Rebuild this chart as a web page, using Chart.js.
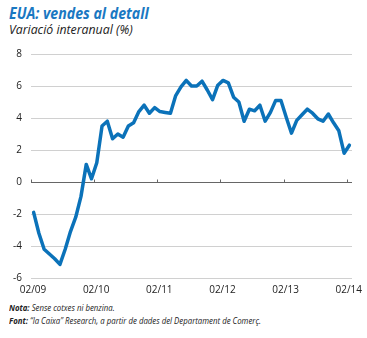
<!DOCTYPE html>
<html lang="ca">
<head>
<meta charset="UTF-8">
<title>EUA: vendes al detall</title>
<style>
    body { margin: 0; width: 367px; height: 338px; background: #fff; position: relative; overflow: hidden;
           font-family: "Open Sans", sans-serif; }
    h1, h2, .note { transform-origin: left center; white-space: nowrap; }
    h1 { position: absolute; left: 9px; top: 2px; margin: 0; font-size: 16px; font-weight: bold; font-style: italic;
         color: #1a78c2; transform: scaleX(0.885); }
    h2 { position: absolute; left: 9px; top: 20px; margin: 0; font-size: 13.5px; font-weight: normal; font-style: italic;
         color: #222; transform: scaleX(0.91); }
    #wrap { position: absolute; left: 0; top: 39px; width: 367px; height: 262px; }
    .note { position: absolute; left: 9px; margin: 0; font-size: 9px; font-style: italic; color: #222;
            transform: scaleX(0.87); }
    .note b { font-weight: bold; }
</style>
</head>
<body>
<h1>EUA: vendes al detall</h1>
<h2>Variació interanual (%)</h2>
<div id="wrap"><canvas id="chart"></canvas></div>
<p class="note" style="top:301px"><b>Nota:</b> Sense cotxes ni benzina.</p>
<p class="note" style="top:314px"><b>Font:</b> “la Caixa” Research, a partir de dades del Departament de Comerç.</p>

<script src="https://cdn.jsdelivr.net/npm/chart.js"></script>
<script>
    // vendes al detall, variació interanual (%), mensual de 02/2009 a 02/2014
    const vendes = [
        -1.9, -3.2, -4.2, -4.5, -4.8, -5.15, -4.2, -3.1, -2.2, -0.9, 1.1, 0.2,
        1.2, 3.5, 3.8, 2.7, 3.0, 2.8, 3.5, 3.7, 4.4, 4.8, 4.3, 4.65,
        4.4, 4.35, 4.3, 5.4, 5.95, 6.35, 6.0, 6.0, 6.3, 5.75, 5.15, 6.05,
        6.35, 6.2, 5.3, 5.0, 3.8, 4.55, 4.45, 4.8, 3.8, 4.35, 5.1, 5.1,
        4.05, 3.05, 3.85, 4.2, 4.55, 4.3, 3.95, 3.8, 4.25, 3.7, 3.2, 1.8,
        2.3
    ];
    const etiquetesX = ['02/09', '02/10', '02/11', '02/12', '02/13', '02/14'];
    const ticksY = [-6, -4, -2, 0, 2, 4, 6, 8];

    const fontTicks = { family: '"Open Sans", sans-serif', size: 10 };

    // una marca al centre de cada mes
    const punts = vendes.map((v, i) => ({ x: i + 0.5, y: v }));

    // petites marques sobre la línia del zero
    const marquesZero = {
        id: 'marquesZero',
        beforeDatasetsDraw(chart) {
            const ctx = chart.ctx;
            const x = chart.scales.x, y = chart.scales.y;
            const y0 = Math.round(y.getPixelForValue(0)) + 0.5;
            ctx.save();
            ctx.strokeStyle = '#666';
            ctx.lineWidth = 1;
            ctx.beginPath();
            etiquetesX.forEach((_, k) => {
                const px = Math.round(x.getPixelForValue(k * 12)) + 0.5;
                ctx.moveTo(px, y0);
                ctx.lineTo(px, y0 - 3);
            });
            ctx.stroke();
            ctx.restore();
        }
    };

    new Chart(document.getElementById('chart'), {
        type: 'line',
        data: {
            datasets: [{
                data: punts,
                borderColor: '#0b72b9',
                borderWidth: 3.5,
                pointRadius: 0,
                tension: 0,
                borderJoinStyle: 'round',
                borderCapStyle: 'round'
            }]
        },
        options: {
            responsive: true,
            maintainAspectRatio: false,
            animation: false,
            layout: { padding: { top: 3, right: 15, left: 0, bottom: 0 } },
            plugins: { legend: { display: false }, tooltip: { enabled: false } },
            scales: {
                x: {
                    type: 'linear',
                    min: 0,
                    max: 61,
                    afterBuildTicks: s => { s.ticks = etiquetesX.map((_, k) => ({ value: k * 12 })); },
                    afterFit: s => { s.height = 23; },
                    grid: { display: false, drawTicks: false },
                    border: { display: false },
                    ticks: {
                        padding: 6,
                        labelOffset: 2,
                        maxRotation: 0,
                        color: '#222',
                        font: fontTicks,
                        callback: (v) => etiquetesX[v / 12]
                    }
                },
                y: {
                    min: -6,
                    max: 8,
                    afterBuildTicks: s => { s.ticks = ticksY.map(v => ({ value: v })); },
                    afterFit: s => { s.width = 31; },
                    border: { display: false },
                    grid: {
                        drawTicks: false,
                        color: c => c.tick && c.tick.value === 0 ? '#666' : '#d0d0d0',
                        lineWidth: 1
                    },
                    ticks: {
                        padding: 9,
                        color: '#222',
                        font: fontTicks
                    }
                }
            }
        },
        plugins: [marquesZero]
    });
</script>
</body>
</html>
